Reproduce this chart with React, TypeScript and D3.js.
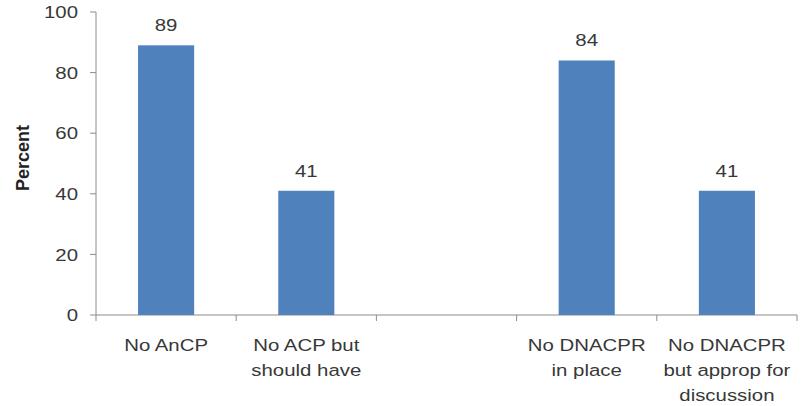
import React, { useEffect, useRef } from 'react';
import * as d3 from 'd3';

// categories (\n marks the line breaks used in the reference), blank slot is a gap
const categories = ['No AnCP', 'No ACP but\nshould have', '', 'No DNACPR\nin place', 'No DNACPR\nbut approp for\ndiscussion'];
const values: (number | null)[] = [89, 41, null, 84, 41];
const yTicks = [0, 20, 40, 60, 80, 100];

const App = () => {
  const ref = useRef<SVGSVGElement>(null);

  useEffect(() => {
    const W = 802, H = 406;
    const margin = { top: 12, right: 5, bottom: 91, left: 96 };
    const width = W - margin.left - margin.right;
    const height = H - margin.top - margin.bottom;

    const svg = d3.select(ref.current);
    svg.selectAll('*').remove();

    const g = svg.append('g').attr('transform', `translate(${margin.left},${margin.top})`);

    const x = d3.scaleBand<number>()
      .domain(categories.map((_, i) => i))
      .range([0, width])
      .paddingInner(0.6)
      .paddingOuter(0.3);

    const y = d3.scaleLinear().domain([0, 100]).range([height, 0]);

    const font = 'Liberation Sans, Arial, sans-serif';
    const textColor = '#383838';
    const axisColor = '#8c8c8c';
    // the source picture is stretched a bit horizontally, so text is too
    const sx = 1.2;
    const fs = '17px';

    // y axis
    g.append('line')
      .attr('x1', 0).attr('x2', 0)
      .attr('y1', 0).attr('y2', height)
      .attr('stroke', axisColor);
    g.selectAll('.ytick')
      .data(yTicks)
      .enter()
      .append('line')
      .attr('x1', -6).attr('x2', 0)
      .attr('y1', d => y(d)).attr('y2', d => y(d))
      .attr('stroke', axisColor);
    g.selectAll('.ylabel')
      .data(yTicks)
      .enter()
      .append('text')
      .attr('transform', d => `translate(-18,${y(d)}) scale(${sx},1)`)
      .attr('dy', '0.36em')
      .attr('text-anchor', 'end')
      .attr('fill', textColor)
      .style('font-family', font)
      .style('font-size', fs)
      .text(d => d);

    // x axis: tick marks at band boundaries
    const step = x.step();
    g.append('line')
      .attr('x1', 0).attr('x2', width)
      .attr('y1', height).attr('y2', height)
      .attr('stroke', axisColor);
    g.selectAll('.xtick')
      .data(d3.range(categories.length + 1))
      .enter()
      .append('line')
      .attr('x1', d => d * step).attr('x2', d => d * step)
      .attr('y1', height).attr('y2', height + 6)
      .attr('stroke', axisColor);

    // category labels
    const labels = g.selectAll('.xlabel')
      .data(categories)
      .enter()
      .append('text')
      .attr('text-anchor', 'middle')
      .attr('fill', textColor)
      .style('font-family', font)
      .style('font-size', fs)
      .attr('transform', (_, i) => `translate(${x(i)! + x.bandwidth() / 2},${height + 36}) scale(${sx},1)`);
    labels.each(function (d) {
      d.split('\n').forEach((line, j) => {
        d3.select(this).append('tspan').attr('x', 0).attr('y', j * 25).text(line);
      });
    });

    const barData = values.map((v, i) => ({ v, i })).filter(d => d.v !== null) as { v: number; i: number }[];

    // bars
    g.selectAll('.bar')
      .data(barData)
      .enter()
      .append('rect')
      .attr('x', d => x(d.i)!)
      .attr('y', d => y(d.v))
      .attr('width', x.bandwidth())
      .attr('height', d => height - y(d.v))
      .attr('fill', '#4f81bd');

    // value labels
    g.selectAll('.val')
      .data(barData)
      .enter()
      .append('text')
      .attr('transform', d => `translate(${x(d.i)! + x.bandwidth() / 2},${y(d.v) - 14}) scale(${sx},1)`)
      .attr('text-anchor', 'middle')
      .attr('fill', textColor)
      .style('font-family', font)
      .style('font-size', fs)
      .text(d => d.v);

    // y axis title
    svg.append('text')
      .attr('transform', `translate(29,158) rotate(-90)`)
      .attr('text-anchor', 'middle')
      .attr('fill', '#222')
      .style('font-family', font)
      .style('font-size', '18px')
      .style('font-weight', 'bold')
      .text('Percent');
  }, []);

  return (
    <svg ref={ref} width={802} height={406} style={{ position: 'absolute', left: 0, top: 0, background: '#fff' }} />
  );
};

export default App;
